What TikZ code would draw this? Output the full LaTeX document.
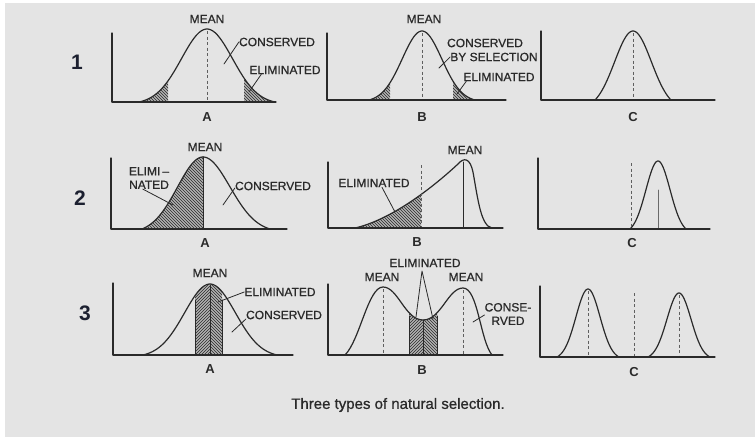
\documentclass[tikz,border=0pt]{standalone}
\usepackage{fontspec}
\setmainfont{Liberation Sans}
\newfontface\lblfont{Liberation Sans}[FakeBold=0.8, Ligatures=TeX]
\usetikzlibrary{patterns}
\definecolor{ink}{HTML}{2A2A2A}
\definecolor{paper}{HTML}{E4E4E4}
\definecolor{navy}{HTML}{1C2030}
% bell plot: from, to, baseline, height, mean, spread, half width
\newcommand{\bellpl}[7]{plot[domain=#1:#2,samples=60] (\x,{#3-#4*bell(\x,#5,#6,#7)})}

\begin{document}
\begin{tikzpicture}[x=1pt, y=-1pt, line join=round, line cap=round, font=\lblfont\fontsize{12}{13.5}\selectfont,
  declare function={bell(\qx,\qm,\qs,\qw)=(exp(-((\qx-\qm)/\qs)^2)-exp(-(\qw/\qs)^2))/(1-exp(-(\qw/\qs)^2));}]
\tikzstyle{axis}=[draw=ink, line width=1.3pt]
\tikzstyle{curve}=[draw=ink, line width=1.2pt]
\tikzstyle{meanln}=[draw=ink!75, line width=0.9pt, line cap=butt, dash pattern=on 3pt off 2.5pt]
\tikzstyle{lead}=[draw=ink, line width=0.8pt]
\tikzstyle{lbl}=[inner sep=0pt, text=ink, align=center]
\tikzstyle{panel}=[inner sep=0pt, text=ink, font=\fontsize{13}{14}\selectfont\bfseries]
\tikzstyle{rowno}=[inner sep=0pt, text=navy, font=\fontsize{21}{24}\selectfont\bfseries]
\tikzstyle{hatchL}=[preaction={fill=gray!60}, pattern=north east lines, pattern color=ink]
\tikzstyle{hatchR}=[preaction={fill=gray!60}, pattern=north west lines, pattern color=ink]
\useasboundingbox (0,0) rectangle (755,439);
\fill[white] (0,0) rectangle (755,439);
\fill[paper] (5,3) rectangle (755,437);

% row 1: stabilising
\node[rowno] (r1) at (77,62) {1};
\begin{scope}
\clip \bellpl{139}{275}{102}{73}{207}{36}{68} -- cycle;
\fill[hatchR] (139,20) rectangle (168,102);
\fill[hatchR] (244,20) rectangle (276,102);
\end{scope}
\draw[curve] \bellpl{139}{275}{102}{73}{207}{36}{68};
\draw[meanln] (207,31) -- (207,102);
\draw[axis] (112,33) -- (112,102) -- (276,102);
\node[lbl] (mean1a) at (207,19) {MEAN};
\node[lbl] (cons1a) at (277,42) {CONSERVED};
\node[lbl] (elim1a) at (285,70) {ELIMINATED};
\coordinate (c1a) at (224,64);
\coordinate (e1a) at (249,92);
\draw[lead] (cons1a.west) -- (c1a);
\draw[lead] ([xshift=12pt]elim1a.south west) -- (e1a);
\node[panel] (pa1) at (207,117) {A};

\begin{scope}
\clip \bellpl{369}{475}{100}{69}{422}{28}{53} -- cycle;
\fill[hatchR] (369,20) rectangle (390,100);
\fill[hatchR] (453,20) rectangle (476,100);
\end{scope}
\draw[curve] \bellpl{369}{475}{100}{69}{422}{28}{53};
\draw[meanln] (422,33) -- (422,100);
\draw[axis] (327,33) -- (327,100) -- (506,100);
\node[lbl] (mean1b) at (424,19) {MEAN};
\node[lbl] (cons1b) at (485,43) {CONSERVED};
\node[lbl] (sel1b) at (494,57) {BY SELECTION};
\node[lbl] (elim1b) at (499,77) {ELIMINATED};
\coordinate (c1b) at (439,68);
\coordinate (e1b) at (457,94);
\draw[lead] (sel1b.west) -- (c1b);
\draw[lead] ([xshift=3pt]elim1b.south west) -- (e1b);
\node[panel] (pb1) at (422,117) {B};

\draw[curve] \bellpl{595}{671}{100}{69}{633}{26}{38};
\draw[meanln] (633,33) -- (633,100);
\draw[axis] (541,31) -- (541,100) -- (715,100);
\node[panel] (pc1) at (633,117) {C};

% row 2: directional
\node[rowno] (r2) at (80,198) {2};
\begin{scope}
\clip \bellpl{142}{203}{229}{72}{203}{36}{61} -- (203,229) -- cycle;
\fill[hatchR] (142,150) rectangle (203,229);
\end{scope}
\draw[curve] \bellpl{142}{203}{229}{72}{203}{36}{61};
\draw[curve] \bellpl{203}{270}{229}{72}{203}{38}{67};
\draw[ink, line width=1pt] (203,157) -- (203,229);
\draw[axis] (111,158) -- (111,229) -- (287,229);
\node[lbl] (mean2a) at (205,147) {MEAN};
\node[lbl] (elim2a) at (149,178) {ELIMI\,\textendash\\NATED};
\node[lbl] (cons2a) at (273,186) {CONSERVED};
\coordinate (e2a) at (173,205);
\coordinate (c2a) at (223,205);
\draw[lead] ([xshift=14pt]elim2a.south west) -- (e2a);
\draw[lead] ([yshift=-2pt]cons2a.west) -- (c2a);
\node[panel] (pa2) at (205,243) {A};

\begin{scope}
\clip (355,228) .. controls (390,220) and (430,190) .. (458,164) -- (458,228) -- cycle;
\fill[hatchR] (355,150) rectangle (421,228);
\end{scope}
\draw[curve] (355,228) .. controls (390,220) and (430,190) .. (458,164)
  .. controls (464,157) and (470,158) .. (473,172)
  .. controls (478,200) and (481,226) .. (492,228);
\draw[meanln] (421,165) -- (421,228);
\draw[ink, line width=1pt] (463,162) -- (463,228);
\draw[axis] (328,162) -- (328,228) -- (503,228);
\node[lbl] (mean2b) at (465,150) {MEAN};
\node[lbl] (elim2b) at (374,183) {ELIMINATED};
\coordinate (e2b) at (395,212);
\draw[lead] ([xshift=8pt]elim2b.south) -- (e2b);
\node[panel] (pb2) at (417,242) {B};

\draw[curve] \bellpl{630}{686}{229}{68}{658}{17}{28};
\draw[meanln] (631,163) -- (631,229);
\draw[ink!70, line width=0.7pt] (658,190) -- (658,229);
\draw[axis] (538,158) -- (538,229) -- (710,229);
\node[panel] (pc2) at (632,243) {C};

% row 3: disruptive
\node[rowno] (r3) at (85,313) {3};
\begin{scope}
\clip \bellpl{143}{277}{355}{71}{210}{36}{67} -- cycle;
\fill[hatchL] (195,270) rectangle (210,355);
\fill[hatchR] (210,270) rectangle (222,355);
\end{scope}
\draw[curve] \bellpl{143}{277}{355}{71}{210}{36}{67};
\draw[ink, line width=0.8pt] (195,300) -- (195,355) (222,300) -- (222,355);
\draw[ink, line width=1pt] (210,285) -- (210,355);
\draw[axis] (113,283) -- (113,355) -- (293,355);
\node[lbl] (mean3a) at (210,273) {MEAN};
\node[lbl] (elim3a) at (280,292) {ELIMINATED};
\node[lbl] (cons3a) at (284,315) {CONSERVED};
\coordinate (e3a) at (218,302);
\coordinate (c3a) at (232,332);
\draw[lead] (elim3a.west) -- (e3a);
\draw[lead] ([yshift=-4pt]cons3a.west) -- (c3a);
\node[panel] (pa3) at (210,369) {A};

\begin{scope}
\clip (345,355) .. controls (360,340) and (368,287) .. (383,287)
  .. controls (398,287) and (405,320) .. (423,320)
  .. controls (441,320) and (448,288) .. (463,288)
  .. controls (478,288) and (480,340) .. (492,355) -- cycle;
\fill[hatchL] (409,280) rectangle (423,355);
\fill[hatchR] (423,280) rectangle (437,355);
\end{scope}
\draw[curve] (345,355) .. controls (360,340) and (368,287) .. (383,287)
  .. controls (398,287) and (405,320) .. (423,320)
  .. controls (441,320) and (448,288) .. (463,288)
  .. controls (478,288) and (480,340) .. (492,355);
\draw[ink, line width=0.8pt] (409,316) -- (409,355) (437,316) -- (437,355) (423,320) -- (423,355);
\draw[meanln] (383,289) -- (383,355);
\draw[meanln] (463,290) -- (463,355);
\draw[axis] (328,284) -- (328,355) -- (503,355);
\node[lbl] (mean3b) at (382,277) {MEAN};
\node[lbl] (mean3c) at (466,277) {MEAN};
\node[lbl] (elim3b) at (425,263) {ELIMINATED};
\node[lbl] (cons3b) at (508,314) {CONSE-\\RVED};
\coordinate (tip3b) at (422,271);
\coordinate (el3b) at (416,317);
\coordinate (er3b) at (433,319);
\coordinate (c3b) at (473,322);
\draw[lead] (el3b) -- (tip3b) -- (er3b);
\draw[lead] ([yshift=-1pt]cons3b.west) -- (c3b);
\node[panel] (pb3) at (422,370) {B};

\draw[curve] \bellpl{557}{619}{357}{68}{588}{17}{31};
\draw[curve] \bellpl{648}{710}{357}{64}{679}{17}{31};
\foreach \m/\t in {588/291, 634/293, 679/295}{\draw[meanln] (\m,\t) -- (\m,357);}
\draw[axis] (540,286) -- (540,357) -- (715,357);
\node[panel] (pc3) at (634,372) {C};

\node[inner sep=0pt, text=ink, font=\lblfont\fontsize{15}{17}\selectfont] (caption) at (398,405) {Three types of natural selection.};
\end{tikzpicture}
\end{document}
